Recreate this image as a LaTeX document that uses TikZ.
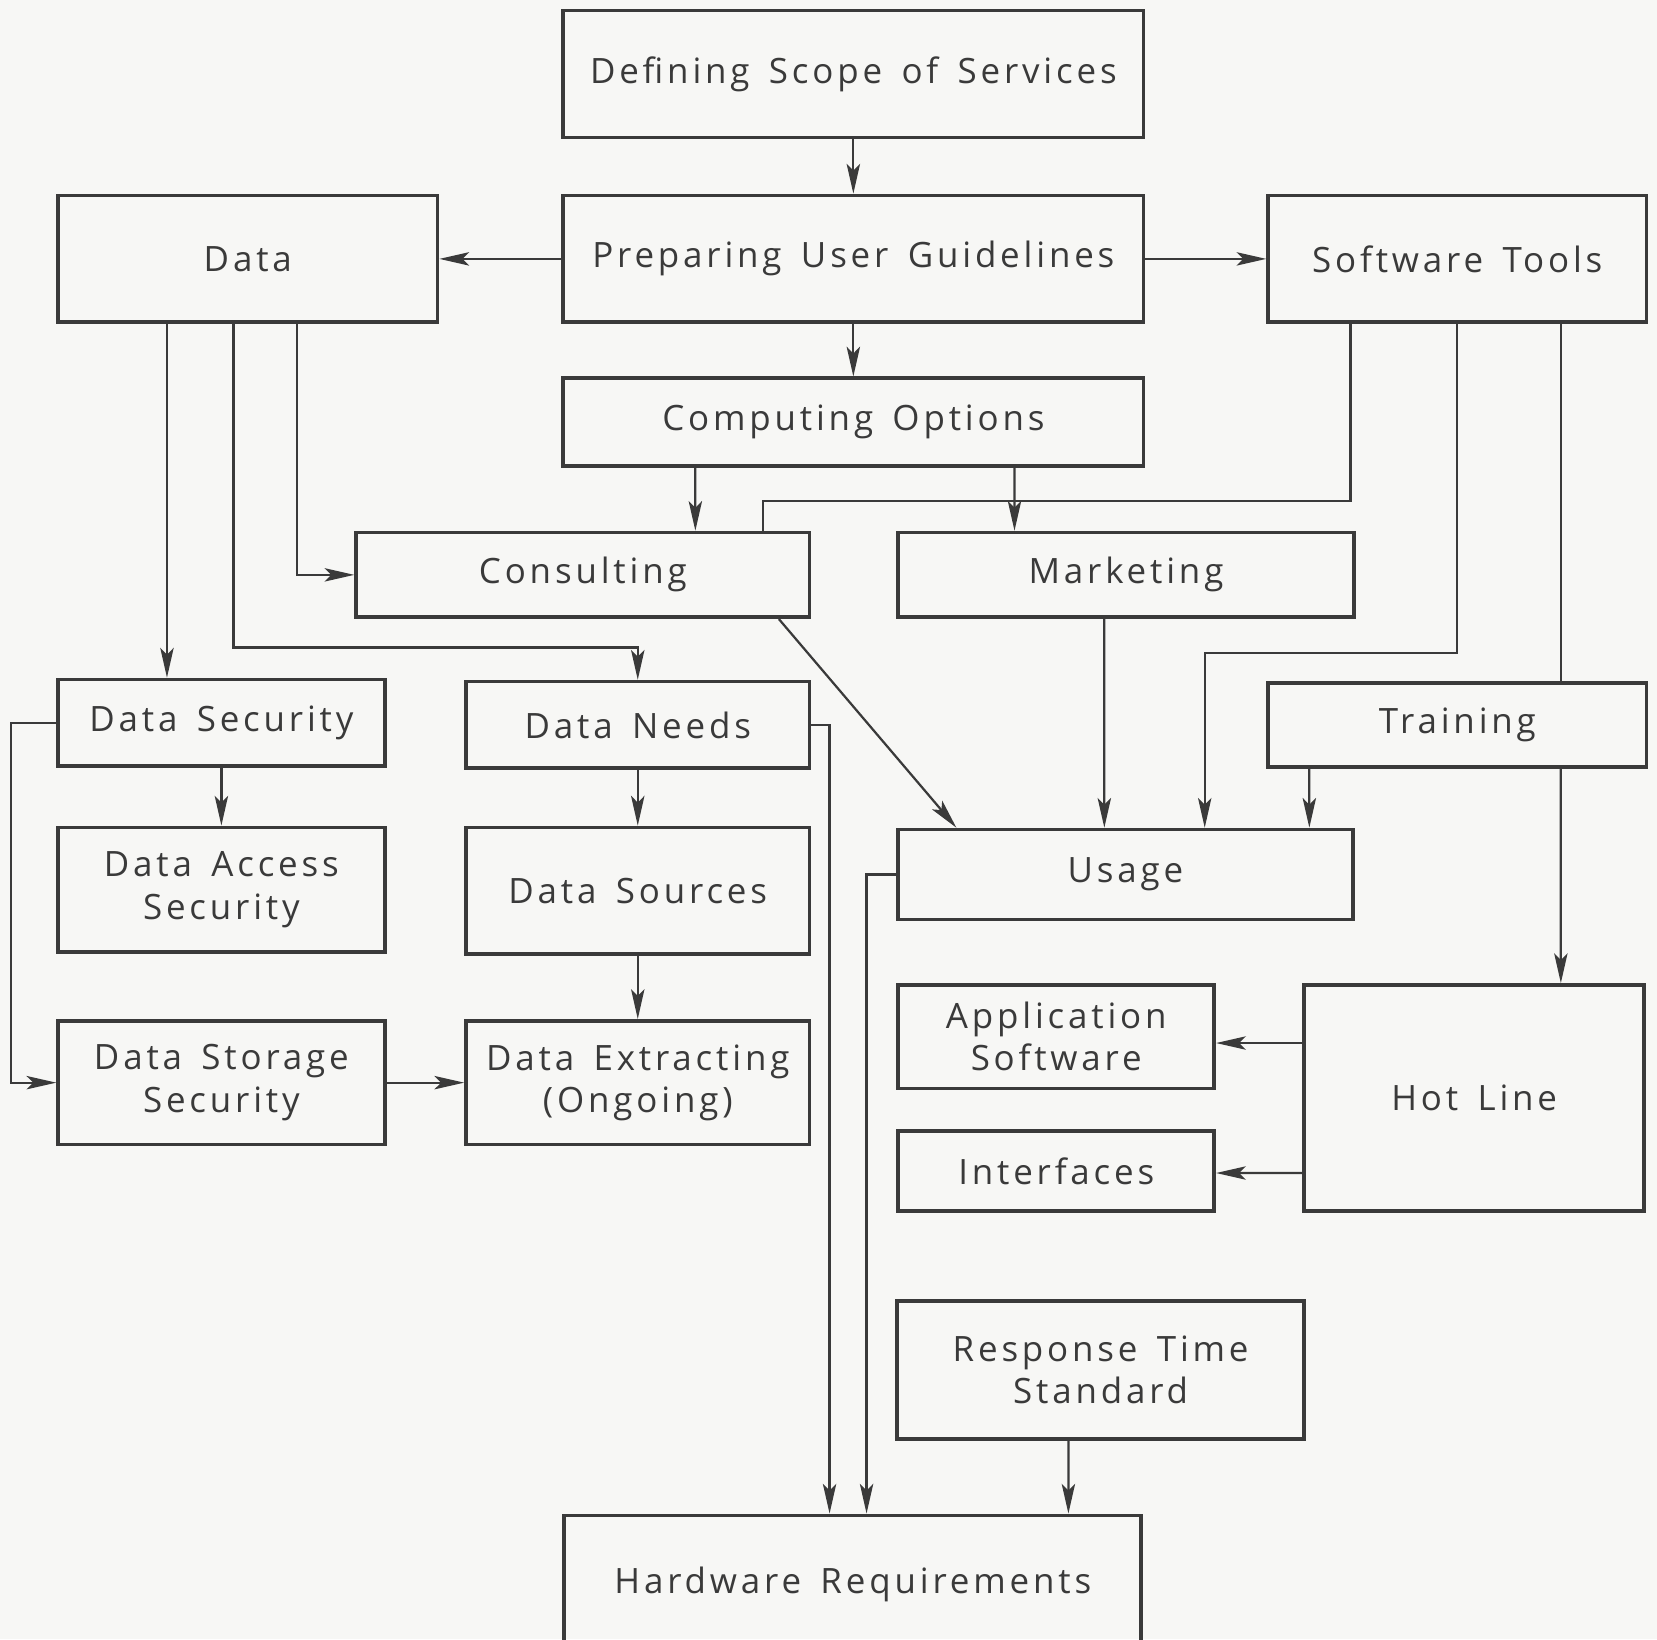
\documentclass[tikz,border=0pt]{standalone}
\usepackage{fontspec}
\usepackage{tikz}
\usetikzlibrary{arrows.meta}
\newfontfamily\boxfont{Open Sans}[LetterSpace=11,WordSpace=1.5]
\definecolor{ink}{RGB}{58, 58, 58}
\definecolor{paper}{RGB}{247, 247, 245}
\tikzset{
    block/.style={draw=ink, line width=1pt, inner sep=0pt, align=center, text=ink,
                  font=\boxfont\fontsize{9.4}{11.4}\selectfont},
    link/.style={draw=ink, line width=0.6pt},
    arr/.style={link, -{Stealth[length=8pt, width=3.6pt, inset=1.8pt]}},
}

\begin{document}
\begin{tikzpicture}
            % Page
            \useasboundingbox                                                 (0.00, 0.00) rectangle (15.68,-15.51);
            \clip                                                             (0.00, 0.00) rectangle (15.68,-15.51);
            \fill[paper]                                                      (0.00, 0.00) rectangle (15.68,-15.51);
            % Top row
            \node[block, minimum width=5.49cm, minimum height=1.20cm] (scope)    at ( 8.075, -0.700) {Defining Scope of Services};
            \node[block, minimum width=5.49cm, minimum height=1.20cm] (guide)    at ( 8.075, -2.450) {Preparing User Guidelines};
            \node[block, minimum width=3.59cm, minimum height=1.20cm] (data)     at ( 2.345, -2.450) {Data};
            \node[block, minimum width=3.58cm, minimum height=1.20cm] (tools)    at (13.790, -2.450) {Software Tools};
            \node[block, minimum width=5.49cm, minimum height=0.83cm] (compopt)  at ( 8.075, -3.995) {Computing Options};
            \node[block, minimum width=4.29cm, minimum height=0.80cm] (consult)  at ( 5.515, -5.440) {Consulting};
            \node[block, minimum width=4.31cm, minimum height=0.80cm] (market)   at (10.655, -5.440) {Marketing};
            % Data branch
            \node[block, minimum width=3.09cm, minimum height=0.82cm] (dsec)     at ( 2.095, -6.840) {Data Security};
            \node[block, minimum width=3.25cm, minimum height=0.82cm] (dneeds)   at ( 6.035, -6.860) {Data Needs};
            \node[block, minimum width=3.09cm, minimum height=1.18cm] (daccess)  at ( 2.095, -8.420) {Data Access\\Security};
            \node[block, minimum width=3.25cm, minimum height=1.20cm] (dsources) at ( 6.035, -8.430) {Data Sources};
            \node[block, minimum width=3.09cm, minimum height=1.17cm] (dstore)   at ( 2.095,-10.245) {Data Storage\\Security};
            \node[block, minimum width=3.25cm, minimum height=1.17cm] (dextract) at ( 6.035,-10.245) {Data Extracting\\(Ongoing)};
            % Software branch
            \node[block, minimum width=3.58cm, minimum height=0.80cm] (train)    at (13.790, -6.860) {Training};
            \node[block, minimum width=4.30cm, minimum height=0.85cm] (usage)    at (10.650, -8.275) {Usage};
            \node[block, minimum width=2.99cm, minimum height=0.98cm] (appsw)    at ( 9.995, -9.810) {Application\\Software};
            \node[block, minimum width=3.22cm, minimum height=2.14cm] (hotline)  at (13.950,-10.390) {Hot Line};
            \node[block, minimum width=2.99cm, minimum height=0.76cm] (interf)   at ( 9.995,-11.080) {Interfaces};
            % Bottom
            \node[block, minimum width=3.85cm, minimum height=1.31cm] (resp)     at (10.415,-12.965) {Response Time\\Standard};
            \node[block, minimum width=5.46cm, minimum height=1.30cm] (hardware) at ( 8.070,-14.990) {Hardware Requirements};
            % Links from the top
            \draw[arr] (scope.south) -- (guide.north);
            \draw[arr] (guide.west)  -- (data.east);
            \draw[arr] (guide.east)  -- (tools.west);
            \draw[arr] (guide.south) -- (compopt.north);
            \draw[arr] ([xshift=-1.495cm]compopt.south) -- ([xshift= 1.065cm]consult.north);
            \draw[arr] ([xshift= 1.525cm]compopt.south) -- ([xshift=-1.055cm]market.north);
            % Links from Data
            \draw[arr] ([xshift= 0.465cm]data.south) |- (consult.west);
            \draw[arr] ([xshift=-0.765cm]data.south) -- ([xshift=-0.515cm]dsec.north);
            \draw[arr] ([xshift=-0.135cm]data.south) -- ++(0,-3.06) -| (dneeds.north);
            \draw[arr] (dsec.south)     -- (daccess.north);
            \draw[arr] (dsec.west)      -- ++(-0.43,0) |- (dstore.west);
            \draw[arr] (dstore.east)    -- (dextract.west);
            \draw[arr] (dneeds.south)   -- (dsources.north);
            \draw[arr] (dsources.south) -- (dextract.north);
            % Links from Software Tools
            \draw[link] ([xshift=-1.01cm]tools.south) -- ++(0,-1.67) -| ([xshift=1.705cm]consult.north);
            \draw[arr]  (tools.south) -- ++(0,-3.11) -| ([xshift=0.75cm]usage.north);
            \draw[link] ([xshift= 0.98cm]tools.south) -- ([xshift=0.98cm]train.north);
            \draw[arr]  ([xshift= 1.855cm]consult.south) -- ([xshift=-1.60cm]usage.north);
            \draw[arr]  ([xshift=-0.205cm]market.south)  -- ([xshift=-0.20cm]usage.north);
            \draw[arr]  ([xshift=-1.40cm]train.south)    -- ([xshift= 1.74cm]usage.north);
            \draw[arr]  ([xshift= 0.98cm]train.south)    -- ([xshift= 0.82cm]hotline.north);
            \draw[arr]  ([yshift= 0.52cm]hotline.west)   -- ([yshift=-0.06cm]appsw.east);
            \draw[arr]  ([yshift=-0.71cm]hotline.west)   -- ([yshift=-0.02cm]interf.east);
            % Into Hardware Requirements
            \draw[arr] (dneeds.east) -| ([xshift=-0.22cm]hardware.north);
            \draw[arr] (usage.west)  -| ([xshift= 0.13cm]hardware.north);
            \draw[arr] ([xshift=-0.305cm]resp.south) -- ([xshift=2.04cm]hardware.north);
\end{tikzpicture}
\end{document}
